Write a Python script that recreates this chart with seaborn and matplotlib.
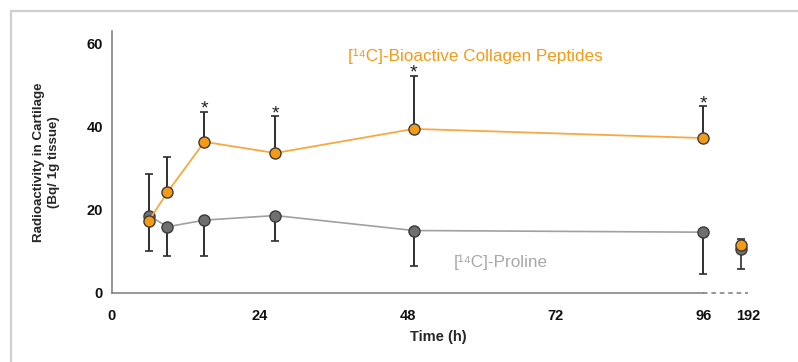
import matplotlib
matplotlib.use("Agg")
import matplotlib.pyplot as plt
from matplotlib.lines import Line2D
import seaborn as sns
import pandas as pd

# Radioactivity in cartilage (Bq / 1g tissue), mean with one-sided error bars
time_h = [6, 9, 15, 26.5, 49, 96]
collagen = [17.4, 24.2, 36.3, 33.6, 39.4, 37.2]
collagen_err = [11.2, 8.4, 7.2, 8.8, 12.7, 7.6]
proline = [18.6, 15.9, 17.5, 18.6, 15.0, 14.6]
proline_err = [8.4, 6.9, 8.5, 6.2, 8.4, 10.0]

# 192 h point, drawn after the axis break
late_label = "192"
late_collagen, late_collagen_err = 11.5, 1.5
late_proline, late_proline_err = 10.6, 4.8

significant = [False, False, True, True, True, True]

tick_values = [0, 24, 48, 72, 96]
tick_labels = ["0", "24", "48", "72", "96"]

orange = "#F59A16"
orange_line = "#F8A840"
grey = "#6F6F6F"
grey_line = "#A0A0A0"
dark = "#2E2E2E"
axis_col = "#7A7A7A"

sns.set_style("white")
plt.rcParams["font.family"] = ["Liberation Sans", "DejaVu Sans"]

df = pd.DataFrame({"time": time_h, "collagen": collagen, "proline": proline})

fig = plt.figure(figsize=(7.98, 3.62), dpi=100)
ax = fig.add_axes([112 / 798, 69 / 362, 653 / 798, 262.4 / 362])

late_pos = 102.1

# error bars (collagen up, proline down)
ax.errorbar(time_h, collagen, yerr=[[0] * len(collagen), collagen_err], fmt="none",
            ecolor=dark, elinewidth=1.4, capsize=3.2, capthick=1.2, zorder=2)
ax.errorbar(time_h, proline, yerr=[proline_err, [0] * len(proline)], fmt="none",
            ecolor=dark, elinewidth=1.4, capsize=3.2, capthick=1.2, zorder=2)
ax.errorbar([late_pos], [late_collagen], yerr=[[0], [late_collagen_err]], fmt="none",
            ecolor=dark, elinewidth=1.2, capsize=3.2, capthick=1.2, zorder=2)
ax.errorbar([late_pos], [late_proline], yerr=[[late_proline_err], [0]], fmt="none",
            ecolor=dark, elinewidth=1.2, capsize=3.2, capthick=1.2, zorder=2)

sns.lineplot(data=df, x="time", y="proline", ax=ax, color=grey_line, lw=1.2,
             marker="o", markersize=8, markerfacecolor=grey, markeredgecolor="#3a3a3a",
             markeredgewidth=1.0, zorder=3)
sns.lineplot(data=df, x="time", y="collagen", ax=ax, color=orange_line, lw=1.3,
             marker="o", markersize=8, markerfacecolor=orange, markeredgecolor="#3a3a3a",
             markeredgewidth=1.0, zorder=4)
sns.scatterplot(x=[late_pos], y=[late_proline], ax=ax, s=64, color=grey,
                edgecolor="#3a3a3a", linewidth=1.0, zorder=3)
sns.scatterplot(x=[late_pos], y=[late_collagen], ax=ax, s=64, color=orange,
                edgecolor="#3a3a3a", linewidth=1.0, zorder=4)

for t, v, e, s in zip(time_h, collagen, collagen_err, significant):
    if s:
        ax.text(t, v + e + 0.65, "*", ha="center", va="center", fontsize=14,
                color="#222222")

ax.text(59.0, 56.9, "[¹⁴C]-Bioactive Collagen Peptides", color=orange,
        fontsize=12.3, ha="center", va="center")
ax.text(63.1, 7.5, "[¹⁴C]-Proline", color="#A8A8A8", fontsize=12.3,
        ha="center", va="center")

ax.set_xlim(0, 106)
ax.set_ylim(0, 63)
ax.set_xticks(tick_values + [103.3])
ax.set_xticklabels(tick_labels + [late_label])
ax.set_yticks([0, 20, 40, 60])
for lab in ax.get_xticklabels() + ax.get_yticklabels():
    lab.set_fontweight("bold")
ax.tick_params(axis="both", direction="inout", length=9, width=1.0,
               colors=axis_col, labelcolor="#111111", labelsize=10.5)
ax.tick_params(axis="x", pad=7)
ax.tick_params(axis="y", pad=2)
ax.xaxis.get_major_ticks()[0].tick1line.set_visible(False)

for side in ["top", "right"]:
    ax.spines[side].set_visible(False)
ax.spines["left"].set_color(axis_col)
ax.spines["bottom"].set_color(axis_col)
ax.spines["left"].set_linewidth(1.1)
ax.spines["bottom"].set_linewidth(1.1)
ax.spines["bottom"].set_bounds(0, 96)
ax.plot([96, 103.3], [0, 0], ls=(0, (3, 2.5)), color=axis_col, lw=1.1,
        clip_on=False, zorder=1)

ax.set_xlabel("Time (h)", fontweight="bold", fontsize=10.5, labelpad=5)
ax.set_ylabel("Radioactivity in Cartilage\n(Bq/ 1g tissue)", fontweight="bold",
              fontsize=9.6, labelpad=19, linespacing=1.35)

# light frame around the panel
fig.add_artist(Line2D([11 / 798, 1], [1 - 11 / 362, 1 - 11 / 362],
                      transform=fig.transFigure, color="#CFCFCF", lw=1.6))
fig.add_artist(Line2D([11 / 798, 11 / 798], [0, 1 - 11 / 362],
                      transform=fig.transFigure, color="#CFCFCF", lw=1.6))

fig.savefig("out.png", dpi=100)
